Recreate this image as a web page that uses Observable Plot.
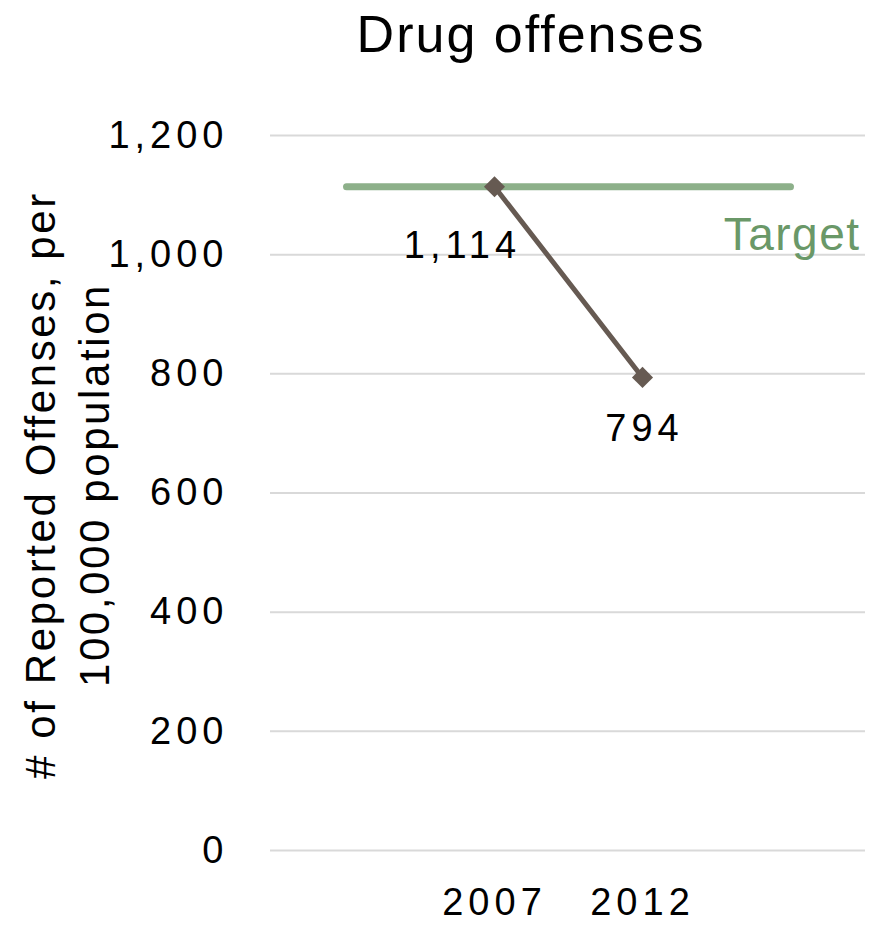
<!DOCTYPE html>
<html>
<head>
<meta charset="utf-8">
<script src="https://cdn.jsdelivr.net/npm/d3@7"></script>
<script src="https://cdn.jsdelivr.net/npm/@observablehq/plot@0.6"></script>
<style>
  html, body { margin: 0; padding: 0; background: #fff; }
  #wrap { width: 879px; position: relative; }
  #title { height: 90px; position: relative; font-family: "Liberation Sans", sans-serif; font-size: 52px; line-height: 1; letter-spacing: 2px; color: #000; }
  #title span { position: absolute; left: 531px; top: 8px; transform: translateX(-50%); white-space: nowrap; }
  g[aria-label="y-axis tick label"] text,
  g[aria-label="x-axis tick label"] text,
  [aria-label="value label"], [aria-label="value label"] text { letter-spacing: 5px; }
  [aria-label="target label"], [aria-label="target label"] text { letter-spacing: 1.5px; }
  [aria-label="y title"], [aria-label="y title"] text, [aria-label="y title"] tspan { letter-spacing: 2.6px; }
</style>
</head>
<body>
<div id="wrap">
  <div id="title"><span>Drug offenses</span></div>
  <div id="chart"></div>
</div>
<script>
const title = "Drug offenses";
const categories = ["", "2007", "2012", " "];
const years = ["2007", "2012"];
const values = [1114, 794];
const targetValue = 1114;
const targetLabel = "Target";
const yTicks = [0, 200, 400, 600, 800, 1000, 1200];
const yLabelLines = ["# of Reported Offenses, per", "100,000 population"];

const series = years.map((y, i) => ({x: y, y: values[i]}));
const targetLine = [{x: categories[0], y: targetValue}, {x: categories[categories.length - 1], y: targetValue}];
const fmt = d3.format(",");
const font = "'Liberation Sans', sans-serif";

const chart = Plot.plot({
  width: 879,
  height: 835,
  marginTop: 45,
  marginBottom: 75,
  marginLeft: 270,
  marginRight: 14,
  style: {fontFamily: font, fontSize: "36px", background: "#fff", color: "#000", overflow: "visible"},
  x: {type: "point", domain: categories, padding: 0.5, label: null},
  y: {domain: [0, 1200], label: null},
  marks: [
    Plot.gridY(yTicks, {stroke: "#d9d9d9", strokeOpacity: 1, strokeWidth: 2}),
    Plot.axisY(yTicks, {tickSize: 0, tickPadding: 42, tickFormat: fmt, fontSize: 38, label: null}),
    Plot.axisX(years, {tickSize: 0, tickPadding: 38, fontSize: 38, label: null}),
    Plot.line(targetLine, {x: "x", y: "y", stroke: "#8db08a", strokeWidth: 7, strokeLinecap: "round"}),
    Plot.text([targetLabel], {x: () => categories[categories.length - 1], y: () => targetValue, text: d => d, dy: 49, dx: 70, textAnchor: "end", fill: "#6a9868", fontSize: 46, ariaLabel: () => "target label"}),
    Plot.line(series, {x: "x", y: "y", stroke: "#665a52", strokeWidth: 5}),
    Plot.dot(series, {x: "x", y: "y", symbol: "diamond2", r: 9.5, fill: "#665a52", stroke: "none"}),
    Plot.text(series.filter(d => d.x === years[0]), {x: "x", y: "y", text: d => fmt(d.y), dy: 59, dx: -32, fontSize: 38, fill: "#000", ariaLabel: () => "value label"}),
    Plot.text(series.filter(d => d.x === years[1]), {x: "x", y: "y", text: d => fmt(d.y), dy: 51, dx: 2, fontSize: 38, fill: "#000", ariaLabel: () => "value label"}),
    Plot.text([yLabelLines.join("\n")], {frameAnchor: "left", text: d => d, rotate: -90, dx: -206, dy: -8, fontSize: 42, lineHeight: 1.3, textAnchor: "middle", lineAnchor: "middle", fill: "#000", ariaLabel: () => "y title"})
  ]
});
document.getElementById("chart").appendChild(chart);
</script>
</body>
</html>
